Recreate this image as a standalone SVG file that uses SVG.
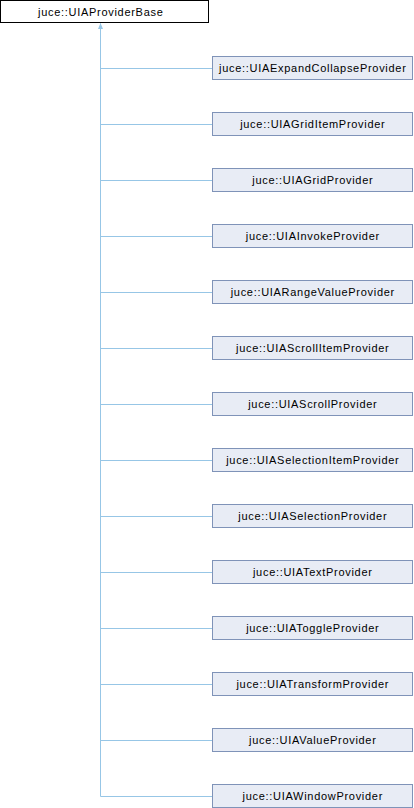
<svg xmlns="http://www.w3.org/2000/svg" width="414" height="808" viewBox="0 0 414 808">
<style>
.base{fill:#ffffff;stroke:#000000;stroke-width:1}
.box{fill:#e8ecf5;stroke:#7f93b8;stroke-width:1}
text{font-family:"Liberation Sans",Arial,sans-serif;font-size:11px;letter-spacing:0.7px;fill:#000000;text-anchor:middle}
.edge{stroke:#97c6e6;stroke-width:1;fill:none}
</style>
<defs>
<marker id="arr" markerWidth="6" markerHeight="6" refX="3" refY="0.5" orient="auto" markerUnits="userSpaceOnUse" viewBox="0 0 6 6">
<path d="M3,0 L5.5,5.5 L0.5,5.5 Z" fill="#97c6e6"/>
</marker>
</defs>
<rect width="414" height="808" fill="#ffffff"/>
<g id="connectors">
<path class="edge" d="M100.5,796.5 V23.5" />
<path d="M100.5,23 L103,29 L98,29 Z" fill="#97c6e6"/>
<path class="edge" d="M100.5,68.5 H212 M100.5,124.5 H212 M100.5,180.5 H212 M100.5,236.5 H212 M100.5,292.5 H212 M100.5,348.5 H212 M100.5,404.5 H212 M100.5,460.5 H212 M100.5,516.5 H212 M100.5,572.5 H212 M100.5,628.5 H212 M100.5,684.5 H212 M100.5,740.5 H212 M100.5,796.5 H212"/>
</g>
<g id="UIAProviderBase"><rect class="base" x="0.5" y="0.5" width="208" height="22"/><text x="100.8" y="15.5">juce::UIAProviderBase</text></g>
<g id="UIAExpandCollapseProvider"><rect class="box" x="212.5" y="56.5" width="200" height="23"/><text x="312.8" y="71.5">juce::UIAExpandCollapseProvider</text></g>
<g id="UIAGridItemProvider"><rect class="box" x="212.5" y="112.5" width="200" height="23"/><text x="312.8" y="127.5">juce::UIAGridItemProvider</text></g>
<g id="UIAGridProvider"><rect class="box" x="212.5" y="168.5" width="200" height="23"/><text x="312.8" y="183.5">juce::UIAGridProvider</text></g>
<g id="UIAInvokeProvider"><rect class="box" x="212.5" y="224.5" width="200" height="23"/><text x="312.8" y="239.5">juce::UIAInvokeProvider</text></g>
<g id="UIARangeValueProvider"><rect class="box" x="212.5" y="280.5" width="200" height="23"/><text x="312.8" y="295.5">juce::UIARangeValueProvider</text></g>
<g id="UIAScrollItemProvider"><rect class="box" x="212.5" y="336.5" width="200" height="23"/><text x="312.8" y="351.5">juce::UIAScrollItemProvider</text></g>
<g id="UIAScrollProvider"><rect class="box" x="212.5" y="392.5" width="200" height="23"/><text x="312.8" y="407.5">juce::UIAScrollProvider</text></g>
<g id="UIASelectionItemProvider"><rect class="box" x="212.5" y="448.5" width="200" height="23"/><text x="312.8" y="463.5">juce::UIASelectionItemProvider</text></g>
<g id="UIASelectionProvider"><rect class="box" x="212.5" y="504.5" width="200" height="23"/><text x="312.8" y="519.5">juce::UIASelectionProvider</text></g>
<g id="UIATextProvider"><rect class="box" x="212.5" y="560.5" width="200" height="23"/><text x="312.8" y="575.5">juce::UIATextProvider</text></g>
<g id="UIAToggleProvider"><rect class="box" x="212.5" y="616.5" width="200" height="23"/><text x="312.8" y="631.5">juce::UIAToggleProvider</text></g>
<g id="UIATransformProvider"><rect class="box" x="212.5" y="672.5" width="200" height="23"/><text x="312.8" y="687.5">juce::UIATransformProvider</text></g>
<g id="UIAValueProvider"><rect class="box" x="212.5" y="728.5" width="200" height="23"/><text x="312.8" y="743.5">juce::UIAValueProvider</text></g>
<g id="UIAWindowProvider"><rect class="box" x="212.5" y="784.5" width="200" height="23"/><text x="312.8" y="799.5">juce::UIAWindowProvider</text></g>
</svg>
